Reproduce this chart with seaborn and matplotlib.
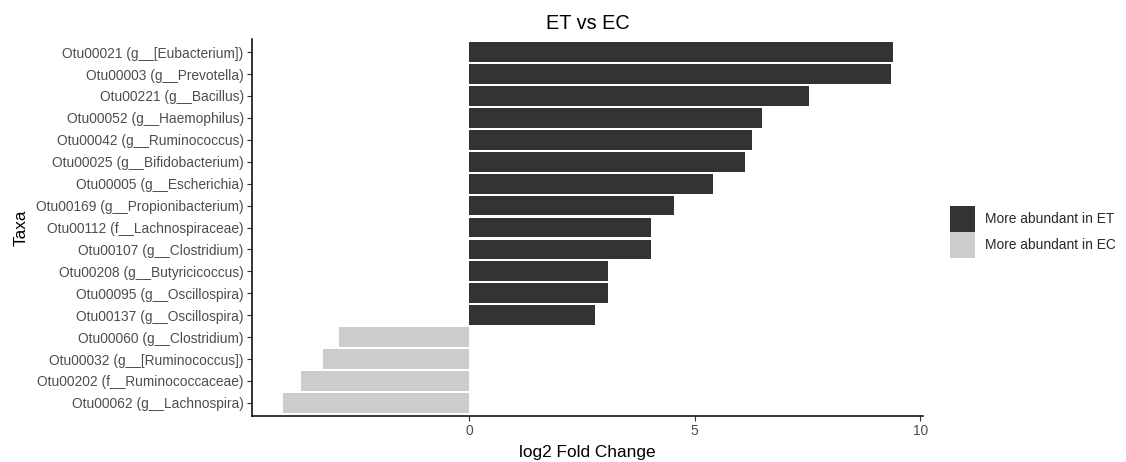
import matplotlib
matplotlib.use("Agg")
import matplotlib.pyplot as plt
import seaborn as sns
import pandas as pd

taxa = [
    "Otu00021 (g__[Eubacterium])",
    "Otu00003 (g__Prevotella)",
    "Otu00221 (g__Bacillus)",
    "Otu00052 (g__Haemophilus)",
    "Otu00042 (g__Ruminococcus)",
    "Otu00025 (g__Bifidobacterium)",
    "Otu00005 (g__Escherichia)",
    "Otu00169 (g__Propionibacterium)",
    "Otu00112 (f__Lachnospiraceae)",
    "Otu00107 (g__Clostridium)",
    "Otu00208 (g__Butyricicoccus)",
    "Otu00095 (g__Oscillospira)",
    "Otu00137 (g__Oscillospira)",
    "Otu00060 (g__Clostridium)",
    "Otu00032 (g__[Ruminococcus])",
    "Otu00202 (f__Ruminococcaceae)",
    "Otu00062 (g__Lachnospira)",
]
log2fc = [9.38, 9.34, 7.54, 6.48, 6.26, 6.12, 5.41, 4.55, 4.04, 4.04,
          3.09, 3.07, 2.80, -2.87, -3.24, -3.71, -4.13]
groups = ["More abundant in ET", "More abundant in EC"]
group_colors = ["#333333", "#CCCCCC"]

df = pd.DataFrame({"Taxa": taxa, "log2FC": log2fc})
df["Group"] = [groups[0] if v > 0 else groups[1] for v in log2fc]

sns.set_theme(style="white")
plt.rcParams["font.family"] = ["Liberation Sans", "DejaVu Sans"]

W, H = 1126, 462
fig = plt.figure(figsize=(W / 100, H / 100), dpi=100)
ax = fig.add_axes([252 / W, 1 - 416 / H, (923 - 252) / W, (416 - 39) / H])

sns.barplot(data=df, x="log2FC", y="Taxa", hue="Group", hue_order=groups,
            palette=group_colors, orient="h", dodge=False, width=0.9,
            saturation=1, linewidth=0, ax=ax, legend=True)

lo, hi = min(log2fc), max(log2fc)
pad = (hi - lo) * 0.05
ax.set_xlim(lo - pad, hi + pad)
ax.set_ylim(len(taxa) - 1 + 0.6, -0.6)
ax.set_xticks([0, 5, 10])
ax.set_xticklabels(["0", "5", "10"])

for side in ["top", "right"]:
    ax.spines[side].set_visible(False)
for side in ["left", "bottom"]:
    ax.spines[side].set_color("black")
    ax.spines[side].set_linewidth(1.1)

ax.tick_params(axis="both", which="major", length=3.5, width=0.8,
               color="#333333", labelsize=9.9, labelcolor="#4D4D4D", pad=2.5,
               left=True, bottom=True)

ax.set_xlabel("log2 Fold Change", fontsize=12.4, color="black", labelpad=5)
ax.set_ylabel("Taxa", fontsize=12.4, color="black", labelpad=5)
ax.set_title("ET vs EC", fontsize=14.3, color="black", pad=7)

handles, labels = ax.get_legend_handles_labels()
ax.get_legend().remove()
fig.legend(handles, labels, loc="center left",
           bbox_to_anchor=(950 / W, 1 - 232 / H), frameon=False,
           fontsize=9.9, handlelength=1.82, handleheight=2.53,
           labelspacing=0.0, handletextpad=0.73, borderpad=0, borderaxespad=0)

fig.savefig("out.png", dpi=100)
